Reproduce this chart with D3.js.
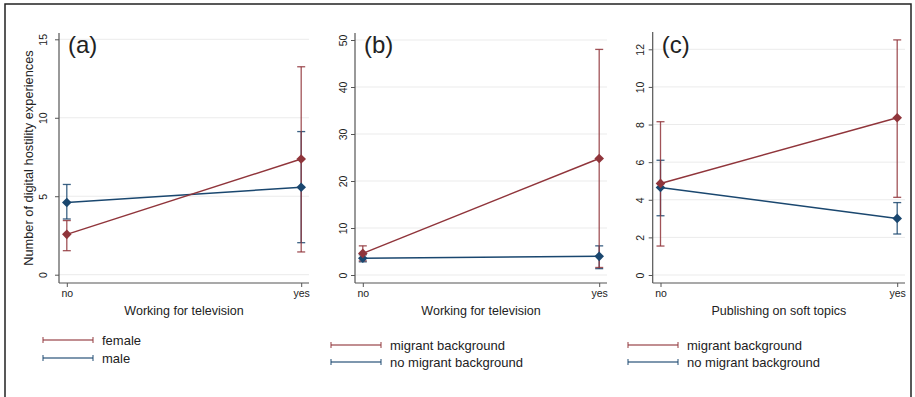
<!DOCTYPE html>
<html>
<head>
<meta charset="utf-8">
<script src="https://cdn.jsdelivr.net/npm/d3@7"></script>
<style>
  html, body { margin: 0; padding: 0; background: #fff; }
  svg { display: block; }
  text { font-family: "Liberation Sans", Arial, Helvetica, sans-serif; fill: #222; }
  .narrow { font-family: "Liberation Sans Narrow", "Arial Narrow", "Liberation Sans", Arial, sans-serif; }
</style>
</head>
<body>
<svg id="chart" width="915" height="397"></svg>
<script>
// Predictive margins of digital hostility experiences (mean, lower CI, upper CI)
const categories = ["no", "yes"];

// (a) gender x working for television
const aFemaleMean = [2.57, 7.37];
const aFemaleLo   = [1.53, 1.45];
const aFemaleHi   = [3.45, 13.25];
const aMaleMean   = [4.60, 5.57];
const aMaleLo     = [3.55, 2.04];
const aMaleHi     = [5.75, 9.12];

// (b) migrant background x working for television
const bMigMean    = [4.60, 24.8];
const bMigLo      = [3.00, 1.60];
const bMigHi      = [6.20, 48.0];
const bNoMigMean  = [3.55, 3.97];
const bNoMigLo    = [2.80, 1.35];
const bNoMigHi    = [4.30, 6.20];

// (c) migrant background x publishing on soft topics
const cMigMean    = [4.87, 8.36];
const cMigLo      = [1.54, 4.13];
const cMigHi      = [8.15, 12.5];
const cNoMigMean  = [4.65, 3.01];
const cNoMigLo    = [3.15, 2.18];
const cNoMigHi    = [6.10, 3.85];

// Axis ticks
const aTicks = [0, 5, 10, 15];
const bTicks = [0, 10, 20, 30, 40, 50];
const cTicks = [0, 2, 4, 6, 8, 10, 12];

// Labels
const panelLetters = ["(a)", "(b)", "(c)"];
const xTitles = ["Working for television", "Working for television", "Publishing on soft topics"];
const yTitle = "Number of digital hostility experiences";
const legendA = ["female", "male"];
const legendBC = ["migrant background", "no migrant background"];

const RED = "#90353b";
const BLUE = "#1a476f";

function series(name, mean, lo, hi, color) {
  return { name, color, points: categories.map((c, i) => ({ cat: c, v: mean[i], lo: lo[i], hi: hi[i] })) };
}

const panels = [
  {
    letter: panelLetters[0], xTitle: xTitles[0], ticks: aTicks, ymax: 15,
    layout: { x0: 59, x1: 309, yTop: 33, yBottom: 283, y0px: 274.7, ymaxPx: 39.3, labelOff: 16, legX: 43, legY: 340, legGap: 18 },
    legend: legendA,
    series: [series(legendA[1], aMaleMean, aMaleLo, aMaleHi, BLUE),
             series(legendA[0], aFemaleMean, aFemaleLo, aFemaleHi, RED)]
  },
  {
    letter: panelLetters[1], xTitle: xTitles[1], ticks: bTicks, ymax: 50,
    layout: { x0: 355, x1: 607, yTop: 33, yBottom: 283, y0px: 275, ymaxPx: 40, labelOff: 12, legX: 331, legY: 345, legGap: 17 },
    legend: legendBC,
    series: [series(legendBC[1], bNoMigMean, bNoMigLo, bNoMigHi, BLUE),
             series(legendBC[0], bMigMean, bMigLo, bMigHi, RED)]
  },
  {
    letter: panelLetters[2], xTitle: xTitles[2], ticks: cTicks, ymax: 12,
    layout: { x0: 652.7, x1: 905, yTop: 32, yBottom: 283, y0px: 275, ymaxPx: 49.3, labelOff: 12.5, legX: 628, legY: 345, legGap: 17 },
    legend: legendBC,
    series: [series(legendBC[1], cNoMigMean, cNoMigLo, cNoMigHi, BLUE),
             series(legendBC[0], cMigMean, cMigLo, cMigHi, RED)]
  }
];

const svg = d3.select("#chart");

// Outer frame
svg.append("rect")
  .attr("x", 5).attr("y", 4).attr("width", 906).attr("height", 402)
  .attr("fill", "none").attr("stroke", "#222").attr("stroke-width", 1.5);

const diamond = d3.symbol().type(d3.symbolSquare).size(46);

panels.forEach((p, pi) => {
  const L = p.layout;
  const g = svg.append("g");

  const x = d3.scalePoint().domain(categories).range([L.x0 + 7.8, L.x1 - 7.8]);
  const y = d3.scaleLinear().domain([0, p.ymax]).range([L.y0px, L.ymaxPx]);

  // Gridlines
  g.append("g").selectAll("line").data(p.ticks).join("line")
    .attr("x1", L.x0).attr("x2", L.x1)
    .attr("y1", d => y(d)).attr("y2", d => y(d))
    .attr("stroke", "#ebebeb").attr("stroke-width", 1);

  // Y axis
  const yAxis = g.append("g").attr("transform", `translate(${L.x0},0)`)
    .call(d3.axisLeft(y).tickValues(p.ticks).tickSize(4).tickSizeOuter(0));
  yAxis.select(".domain").remove();
  yAxis.selectAll(".tick line").attr("stroke", "#555");
  yAxis.selectAll(".tick text")
    .attr("class", "narrow")
    .attr("font-size", 10.5)
    .attr("fill", "#333")
    .attr("x", 0).attr("dy", null)
    .attr("text-anchor", "middle")
    .attr("dominant-baseline", "central")
    .attr("transform", `translate(${-L.labelOff},0) rotate(-90)`);
  g.append("line")
    .attr("x1", L.x0).attr("x2", L.x0).attr("y1", L.yTop).attr("y2", L.yBottom)
    .attr("stroke", "#555").attr("stroke-width", 1.2);

  // X axis
  const xAxis = g.append("g").attr("transform", `translate(0,${L.yBottom})`)
    .call(d3.axisBottom(x).tickSize(4).tickSizeOuter(0));
  xAxis.select(".domain").remove();
  xAxis.selectAll(".tick line").attr("stroke", "#555");
  xAxis.selectAll(".tick text")
    .attr("class", "narrow")
    .attr("font-size", 10.5).attr("fill", "#333")
    .attr("y", 7).attr("dy", "0.71em");
  g.append("line")
    .attr("x1", L.x0).attr("x2", L.x1).attr("y1", L.yBottom).attr("y2", L.yBottom)
    .attr("stroke", "#555").attr("stroke-width", 1.2);

  // X axis title
  g.append("text")
    .attr("x", (L.x0 + L.x1) / 2).attr("y", 315)
    .attr("text-anchor", "middle").attr("font-size", 12.5)
    .text(p.xTitle);

  // Panel letter
  g.append("text")
    .attr("x", L.x0 + 9).attr("y", 53)
    .attr("font-size", 24).attr("fill", "#1e1e2a")
    .text(p.letter);

  // Confidence intervals (capped spikes)
  p.series.forEach(s => {
    const ci = g.append("g").attr("stroke", s.color).attr("stroke-opacity", 0.85).attr("stroke-width", 1.3);
    s.points.forEach(d => {
      const cx = x(d.cat);
      ci.append("line").attr("x1", cx).attr("x2", cx).attr("y1", y(d.lo)).attr("y2", y(d.hi));
      ci.append("line").attr("x1", cx - 4).attr("x2", cx + 4).attr("y1", y(d.lo)).attr("y2", y(d.lo));
      ci.append("line").attr("x1", cx - 4).attr("x2", cx + 4).attr("y1", y(d.hi)).attr("y2", y(d.hi));
    });
  });

  // Connected means
  const line = d3.line().x(d => x(d.cat)).y(d => y(d.v));
  p.series.forEach(s => {
    g.append("path").datum(s.points)
      .attr("d", line).attr("fill", "none")
      .attr("stroke", s.color).attr("stroke-width", 1.5);
    g.append("g").selectAll("path").data(s.points).join("path")
      .attr("d", diamond)
      .attr("transform", d => `translate(${x(d.cat)},${y(d.v)}) rotate(45)`)
      .attr("fill", s.color);
  });

  // Legend
  const legColors = [RED, BLUE];
  p.legend.forEach((name, i) => {
    const ly = L.legY + i * L.legGap;
    const lg = g.append("g").attr("stroke", legColors[i]).attr("stroke-opacity", 0.75).attr("stroke-width", 1.3);
    lg.append("line").attr("x1", L.legX).attr("x2", L.legX + 50).attr("y1", ly).attr("y2", ly);
    lg.append("line").attr("x1", L.legX).attr("x2", L.legX).attr("y1", ly - 3).attr("y2", ly + 3);
    lg.append("line").attr("x1", L.legX + 50).attr("x2", L.legX + 50).attr("y1", ly - 3).attr("y2", ly + 3);
    g.append("text").attr("class", "narrow")
      .attr("x", L.legX + 59).attr("y", ly).attr("dy", "0.35em")
      .attr("font-size", 13).attr("fill", "#222")
      .text(name);
  });
});

// Shared y-axis title
svg.append("text")
  .attr("transform", "translate(28,158) rotate(-90)")
  .attr("text-anchor", "middle")
  .attr("dominant-baseline", "central")
  .attr("font-size", 12.8)
  .text(yTitle);
</script>
</body>
</html>
